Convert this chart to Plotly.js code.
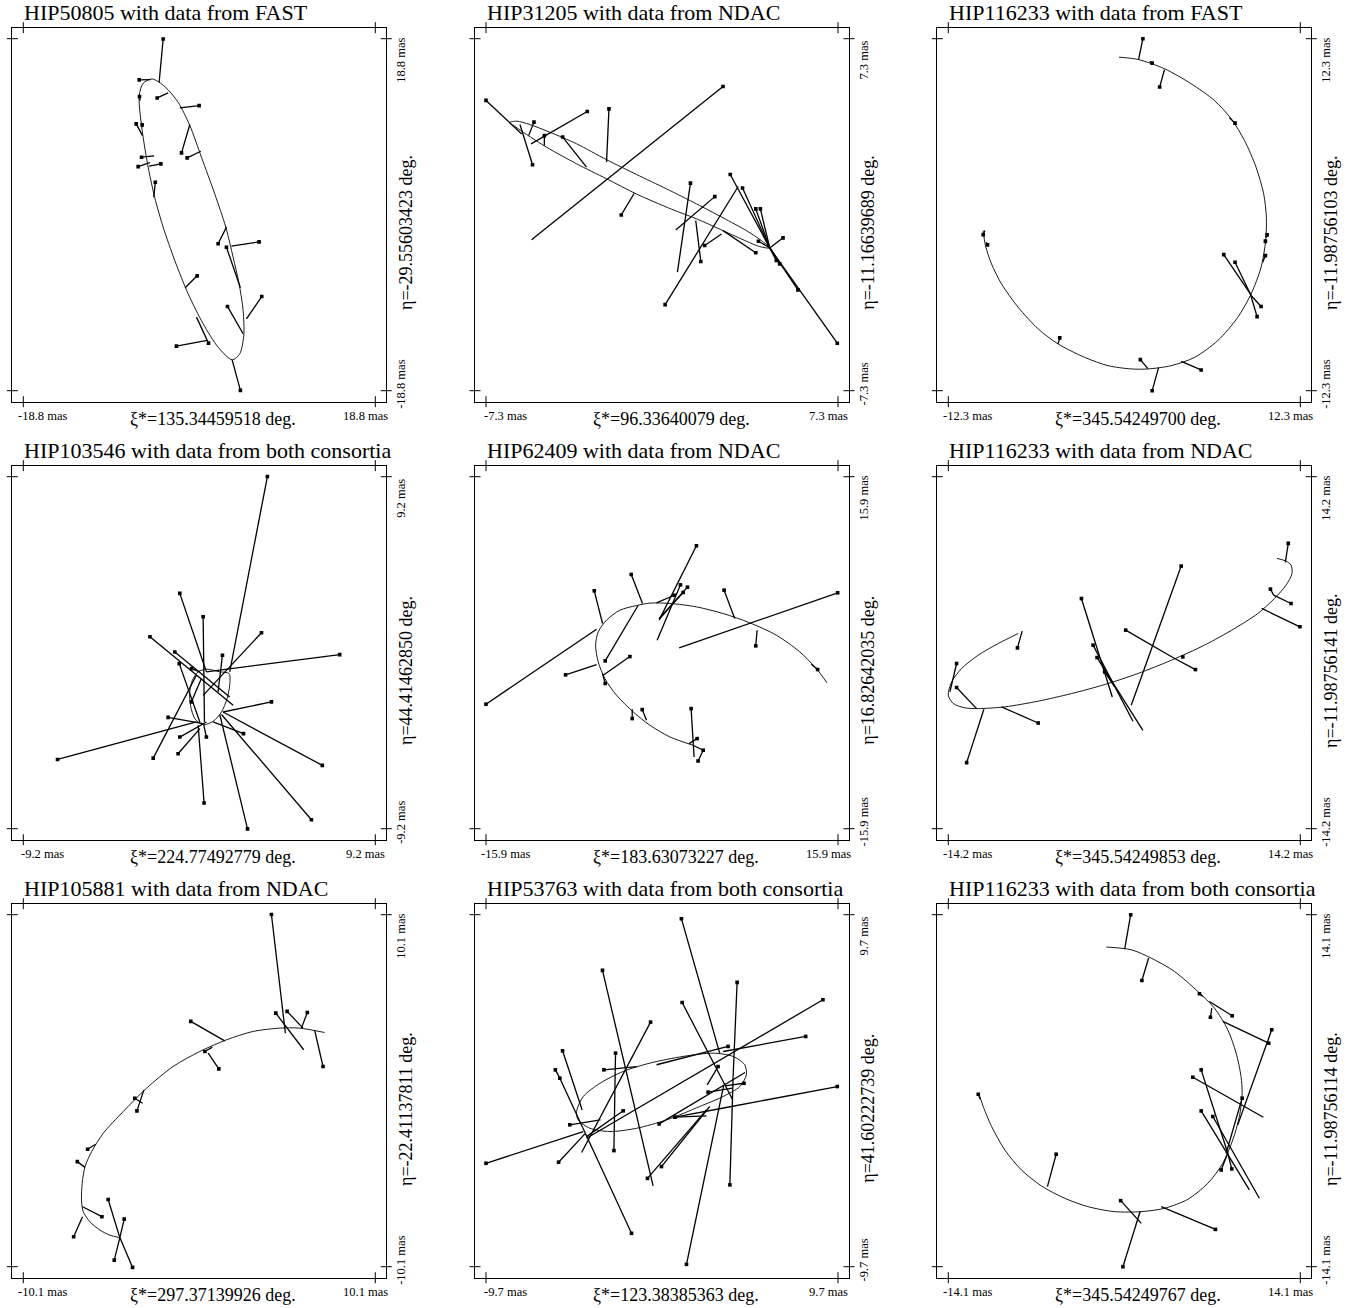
<!DOCTYPE html>
<html><head><meta charset="utf-8">
<script src="https://cdn.plot.ly/plotly-3.0.1.min.js"></script>
<style>body{margin:0;background:#fff}</style>
</head><body><div id="chart" style="width:1348px;height:1308px"></div>
<script>
// ---------- labels ----------
const titles = ["HIP50805 with data from FAST","HIP31205 with data from NDAC","HIP116233 with data from FAST",
  "HIP103546 with data from both consortia","HIP62409 with data from NDAC","HIP116233 with data from NDAC",
  "HIP105881 with data from NDAC","HIP53763 with data from both consortia","HIP116233 with data from both consortia"];
const rangesMas = [18.8, 7.3, 12.3, 9.2, 15.9, 14.2, 10.1, 9.7, 14.1];
const xiLabels = ["135.34459518","96.33640079","345.54249700","224.77492779","183.63073227","345.54249853","297.37139926","123.38385363","345.54249767"];
const etaLabels = ["-29.55603423","-11.16639689","-11.98756103","44.41462850","16.82642035","-11.98756141","-22.41137811","41.60222739","-11.98756114"];

// ---------- panel 1 : HIP50805 FAST ----------
const p1OrbitX = [-5.04,-6.0,-6.42,-6.28,-5.89,-5.39,-4.77,-3.86,-2.62,-1.19,0.41,2.01,3.51,4.32,4.75,4.68,4.25,3.61,2.83,1.65,0.23,-1.01,-2.26,-3.68,-5.04];
const p1OrbitY = [14.50,14.04,12.72,10.41,7.56,4.72,1.87,-1.33,-4.89,-8.45,-11.65,-14.15,-15.50,-14.86,-12.90,-10.23,-7.38,-4.54,-1.33,2.22,6.14,9.52,12.01,13.68,14.50];
const p1ObsX = [-3.86,-6.42,-4.50,-0.02,-6.39,-6.74,-6.10,-1.90,-1.30,-6.17,-6.53,-4.11,-4.70,2.01,6.39,2.90,-0.23,3.01,6.67,-2.44,0.98,4.39];
const p1ObsY = [18.77,14.40,12.47,11.65,12.62,9.70,9.59,6.60,6.07,6.14,5.14,5.43,3.47,-3.11,-2.90,-3.47,-6.53,-9.80,-8.74,-14.04,-13.72,-18.77];
const p1FitX = [-4.29,-5.21,-3.33,-2.08,-6.32,-6.07,-6.07,-1.01,0.16,-4.82,-5.28,-5.36,-4.86,2.90,3.43,4.39,-1.51,4.68,5.04,0.84,-0.30,3.51];
const p1FitY = [14.15,14.43,13.01,11.41,12.19,8.45,9.34,9.63,6.78,6.28,5.57,5.18,1.87,-1.33,-3.36,-7.81,-7.81,-12.72,-11.12,-13.43,-10.94,-15.50];

// ---------- panel 2 : HIP31205 NDAC ----------
const p2OrbitX = [-6.33,-6.03,-5.48,-4.65,-3.54,-2.30,-1.06,0.19,1.43,2.53,3.50,4.12,4.47,4.05,3.50,2.53,1.43,0.39,-1.06,-2.30,-3.54,-4.79,-5.62,-6.10,-6.33];
const p2OrbitY = [3.82,3.88,3.74,3.42,2.94,2.28,1.67,1.07,0.45,-0.13,-0.66,-1.07,-1.38,-1.32,-1.10,-0.66,-0.17,0.23,0.86,1.49,2.11,2.80,3.33,3.66,3.82];
const p2ObsX = [-7.30,-5.31,-5.37,-3.10,-4.88,-4.12,-2.20,2.53,-1.69,1.18,2.19,1.61,2.83,3.34,3.89,4.08,7.27,5.64,4.88,5.02,0.13,1.77,3.89,4.00,4.74];
const p2ObsY = [4.74,3.84,2.07,4.28,3.28,3.22,4.39,5.32,-0.01,1.31,0.75,-1.94,1.67,1.11,0.24,0.24,-5.33,-3.12,-2.04,-0.96,-3.73,-1.28,-1.58,-1.10,-1.90];
const p2FitX = [-5.82,-5.53,-5.89,-5.43,-4.88,-3.13,-2.30,-5.41,-1.15,0.64,0.57,1.40,4.47,4.47,4.47,4.47,4.47,4.47,4.47,4.47,3.16,2.47,2.53,4.47,4.47];
const p2FitY = [3.35,3.28,3.74,2.94,2.87,1.97,2.18,-1.04,0.89,-2.38,-0.63,-0.24,-1.38,-1.38,-1.38,-1.38,-1.38,-1.38,-1.38,-1.38,1.17,-0.80,-0.66,-1.38,-1.38];

// ---------- panel 3 : HIP116233 FAST ----------
const p3OrbitX = [-0.37,0.95,2.81,4.67,6.30,7.47,8.40,9.21,9.74,9.93,9.88,9.56,8.86,7.93,6.53,4.91,3.28,1.65,0.49,-1.14,-2.77,-4.63,-6.02,-7.42,-8.58,-9.28,-9.70,-9.86];
const p3OrbitY = [11.01,10.85,10.20,9.15,7.98,6.70,5.19,3.32,1.46,-0.17,-1.81,-3.67,-5.54,-7.17,-8.80,-9.97,-10.55,-10.78,-10.78,-10.55,-9.97,-9.03,-7.98,-6.47,-4.84,-3.44,-2.16,-1.11];
const p3ObsX = [1.30,1.95,2.47,7.74,-9.86,-9.56,9.98,9.86,9.86,6.95,9.28,7.74,9.56,-4.51,1.12,5.37,1.95];
const p3ObsY = [12.30,10.59,8.92,6.40,-1.39,-2.11,-1.41,-1.85,-2.86,-2.79,-7.12,-3.32,-6.42,-8.61,-10.13,-10.85,-12.30];
const p3FitX = [1.00,1.77,2.81,7.35,-9.74,-9.65,9.91,9.88,9.67,8.81,8.81,8.86,8.86,-4.63,1.65,3.98,2.40];
const p3FitY = [10.85,10.71,10.15,6.77,-1.11,-1.92,-1.62,-2.04,-3.32,-5.54,-5.54,-5.65,-5.65,-9.03,-10.76,-10.25,-10.67];

// ---------- panel 4 : HIP103546 both ----------
const p4OrbitX = [0.37,1.07,1.56,1.59,1.45,1.16,0.72,0.20,-0.23,-0.46,-0.50,-0.36,-0.06,0.37];
const p4OrbitY = [-0.86,-1.00,-1.09,-1.70,-2.40,-3.10,-3.59,-3.76,-3.45,-2.75,-2.05,-1.44,-1.00,-0.86];
const p4ObsX = [3.56,-1.02,0.20,3.25,-2.58,-1.28,7.34,-1.05,1.21,-7.41,3.77,-1.63,-2.41,-1.11,-1.02,0.25,2.52,5.86,6.43,2.31,-0.41,0.37,-0.41];
const p4ObsY = [9.21,3.10,1.88,1.04,0.83,0.04,-0.10,-0.57,-0.13,-5.58,-2.57,-3.38,-5.51,-5.28,-4.41,-7.86,-9.21,-8.73,-5.89,-4.23,-2.57,-4.41,-0.83];
const p4FitX = [1.59,0.37,0.27,0.20,1.77,1.59,0.37,0.03,0.98,-0.15,1.24,0.20,-0.15,0.03,0.37,-0.06,1.07,1.16,1.24,0.72,0.11,0.23,0.03];
const p4FitY = [-1.00,-1.00,-3.62,-2.23,-2.75,-2.31,-1.00,-3.62,-2.05,-3.62,-3.10,-3.71,-1.18,-3.97,-3.62,-3.80,-3.23,-3.23,-3.10,-3.62,-1.35,-3.76,-1.00];

// ---------- panel 5 : HIP62409 NDAC ----------
const p5OrbitX = [14.91,13.94,12.44,10.33,7.93,5.52,3.11,0.71,-1.10,-2.30,-3.81,-5.01,-5.76,-6.00,-5.76,-5.16,-4.11,-2.60,-1.10,0.71,2.81];
const p5OrbitY = [-2.73,-1.43,0.08,1.58,2.70,3.54,4.14,4.45,4.48,4.26,3.84,2.94,1.88,0.68,-0.83,-2.34,-3.84,-5.35,-6.55,-7.61,-8.36];
const p5ObsX = [-15.90,-6.12,-2.78,-5.13,-2.90,-8.71,-5.13,3.11,2.30,1.67,1.91,1.10,5.61,15.87,8.47,14.06,-2.69,-1.79,2.63,3.17,3.26,3.72];
const p5ObsY = [-4.65,5.59,7.07,-0.74,-0.35,-2.00,-2.78,9.66,5.92,6.13,5.44,5.19,5.65,5.41,0.62,-1.52,-5.95,-5.14,-5.05,-7.76,-9.78,-8.81];
const p5FitX = [-5.91,-5.37,-1.76,-2.15,-5.31,-5.91,-5.37,-0.26,-0.20,-0.44,-0.26,-0.50,6.57,1.55,8.59,13.49,-2.69,-1.40,2.90,2.45,3.72,2.81];
const p5FitY = [2.12,2.64,4.45,4.29,-2.03,-1.07,-1.88,2.94,3.09,1.13,3.09,4.50,3.09,0.44,2.03,-1.04,-5.11,-6.10,-9.42,-8.21,-8.81,-8.36];

// ---------- panel 6 : HIP116233 NDAC ----------
const p6OrbitX = [-8.56,-10.17,-11.79,-13.13,-13.93,-14.20,-13.80,-12.86,-11.79,-9.64,-6.95,-4.27,-1.58,1.10,3.79,6.47,8.89,10.77,12.11,13.05,13.53,13.45,13.05,12.32];
const p6OrbitY = [1.55,0.74,-0.20,-1.28,-2.36,-3.43,-4.10,-4.45,-4.51,-4.37,-3.91,-3.30,-2.57,-1.68,-0.61,0.61,1.95,3.16,4.37,5.45,6.39,7.07,7.39,7.61];
const p6ObsX = [13.23,13.45,11.79,14.17,4.59,-3.46,-2.52,-2.20,-1.58,0.11,5.74,-13.53,-13.53,-6.95,-12.72,-8.62,4.72];
const p6ObsY = [8.82,3.97,5.13,2.09,6.99,4.37,0.61,-0.39,-1.55,1.82,-1.36,-2.81,-0.87,-5.67,-8.87,0.39,-0.34];
const p6FitX = [12.99,12.05,12.05,11.09,0.56,-0.97,0.70,1.50,-0.78,3.92,3.92,-11.92,-14.07,-9.91,-11.33,-8.24,4.60];
const p6FitY = [7.28,4.64,4.64,3.57,-4.24,-3.57,-5.53,-6.26,-2.76,-0.39,-0.39,-4.51,-3.16,-4.37,-4.56,1.74,-0.25];

// ---------- panel 7 : HIP105881 NDAC ----------
const p7OrbitX = [7.19,5.76,4.61,3.09,1.56,0.03,-1.50,-3.03,-4.37,-5.51,-6.18,-6.56,-6.72,-6.76,-6.66,-6.28,-5.70,-5.13,-4.56];
const p7OrbitY = [3.34,3.59,3.59,3.40,2.92,2.25,1.39,0.14,-1.20,-2.44,-3.50,-4.36,-5.32,-6.27,-6.94,-7.52,-8.00,-8.29,-8.44];
const p7ObsX = [4.14,4.39,5.04,6.20,7.10,-0.49,1.12,0.32,-3.58,-3.70,-6.41,-7.00,-5.59,-7.21,-5.23,-3.83,-4.31,-4.88];
const p7ObsY = [10.11,4.45,4.55,4.49,1.39,3.98,1.25,2.25,-1.16,-0.43,-3.36,-4.07,-7.23,-8.38,-6.24,-10.14,-7.37,-9.72];
const p7FitX = [4.94,5.99,5.95,5.86,6.62,1.46,0.51,0.75,-3.18,-3.26,-5.95,-6.56,-6.70,-6.70,-4.56,-4.56,-4.56,-4.56];
const p7FitY = [3.30,2.35,3.59,3.59,3.46,2.86,2.15,2.50,0.05,-0.72,-3.07,-4.40,-6.66,-7.23,-8.43,-8.43,-8.43,-8.43];

// ---------- panel 8 : HIP53763 both ----------
const p8OrbitX = [-4.71,-4.34,-3.42,-2.14,-0.67,1.17,2.82,3.92,4.56,4.65,4.29,3.37,2.08,0.25,-1.40,-2.87,-3.97,-4.62,-4.71];
const p8OrbitY = [-1.15,-0.32,0.41,1.06,1.52,1.89,2.07,1.89,1.43,0.87,0.23,-0.32,-0.87,-1.61,-2.07,-2.25,-2.07,-1.61,-1.15];
const p8ObsX = [-9.70,8.87,9.66,0.71,7.92,3.64,-3.20,1.07,-3.28,-0.63,-5.48,-5.88,-5.63,-1.68,-2.65,-2.56,-2.14,-5.70,-5.08,1.11,4.14,3.74,1.35,-0.80,-0.03,-0.16,0.71,2.54,3.09,4.52];
const p8ObsY = [-4.00,5.01,0.23,-1.46,2.99,2.44,1.15,9.48,6.63,3.78,2.20,1.15,0.69,-7.86,-3.30,2.07,-1.11,-3.94,-1.88,4.86,5.97,-5.19,-9.57,-4.83,-4.18,-1.83,-1.46,-0.08,1.33,0.41];
const p8FitX = [-4.34,-4.16,3.83,3.83,3.37,-0.30,-1.40,3.18,-0.49,-4.43,-4.40,-5.63,-4.38,-4.38,-2.58,-2.58,-4.16,-4.25,-3.39,3.88,3.92,3.92,3.40,2.45,2.63,4.58,2.45,3.88,2.49,3.46];
const p8FitY = [-2.25,-2.62,-0.87,-0.87,2.16,1.43,1.33,2.07,-5.25,-3.41,-1.06,0.69,-2.01,-2.01,1.06,1.06,-2.53,-2.38,-1.61,-0.47,0.78,0.78,0.29,-1.06,-0.87,1.00,-1.39,0.14,0.32,0.27];

// ---------- panel 9 : HIP116233 both ----------
const p9OrbitX = [-1.44,0.56,2.16,4.02,5.89,7.22,8.29,8.96,9.35,9.44,9.22,8.69,7.89,6.69,5.09,3.22,1.36,-0.77,-2.91,-4.77,-6.64,-8.24,-9.57,-10.63,-11.30,-11.57];
const p9OrbitY = [11.51,11.29,10.62,9.55,7.95,6.62,4.88,3.01,1.14,-0.20,-2.07,-3.94,-5.81,-7.42,-8.70,-9.42,-9.69,-9.69,-9.29,-8.62,-7.63,-6.35,-4.75,-2.87,-1.27,-0.47];
const p9ObsX = [0.51,1.41,8.64,6.90,6.02,11.57,11.81,5.49,6.16,6.16,7.09,7.76,8.61,9.44,-5.46,-0.29,7.30,-0.11,-11.70];
const p9ObsY = [14.10,8.83,6.00,5.89,7.77,3.81,4.88,1.08,1.67,-1.62,-2.07,-6.35,-6.27,-0.60,-5.09,-8.81,-11.11,-14.10,-0.28];
const p9FitX = [0.03,1.95,6.82,7.01,6.29,7.89,9.09,11.14,8.29,10.02,10.82,8.29,8.29,8.16,-6.16,1.36,2.96,1.28,-11.54];
const p9FitY = [11.35,10.63,7.15,6.62,7.55,5.55,-2.74,-2.13,-5.01,-7.95,-8.62,-5.01,-5.01,-5.01,-7.68,-10.63,-9.29,-9.64,-0.68];

const orbitsX = [p1OrbitX,p2OrbitX,p3OrbitX,p4OrbitX,p5OrbitX,p6OrbitX,p7OrbitX,p8OrbitX,p9OrbitX];
const orbitsY = [p1OrbitY,p2OrbitY,p3OrbitY,p4OrbitY,p5OrbitY,p6OrbitY,p7OrbitY,p8OrbitY,p9OrbitY];
const obsXs = [p1ObsX,p2ObsX,p3ObsX,p4ObsX,p5ObsX,p6ObsX,p7ObsX,p8ObsX,p9ObsX];
const obsYs = [p1ObsY,p2ObsY,p3ObsY,p4ObsY,p5ObsY,p6ObsY,p7ObsY,p8ObsY,p9ObsY];
const fitXs = [p1FitX,p2FitX,p3FitX,p4FitX,p5FitX,p6FitX,p7FitX,p8FitX,p9FitX];
const fitYs = [p1FitY,p2FitY,p3FitY,p4FitY,p5FitY,p6FitY,p7FitY,p8FitY,p9FitY];

// ---------- layout geometry (pixels) ----------
const W = 1348, H = 1308;
const colLeft = [12.3, 475, 937.3];
const rowTop = [27.7, 465.7, 903.7];
const SIZE = 374, PAD = 11;
const FONT = 'Liberation Serif, "Times New Roman", serif';

const traces = [], shapes = [], annotations = [];
const layout = {width: W, height: H, margin: {l:0, r:0, t:0, b:0}, showlegend: false,
  paper_bgcolor: '#fff', plot_bgcolor: '#fff', font: {family: FONT, color: '#000'}};

const px = v => v / W, py = v => 1 - v / H;

for (let i = 0; i < 9; i++) {
  const n = i + 1, sfx = n === 1 ? '' : String(n);
  const xr = 'x' + sfx, yr = 'y' + sfx;
  const left = colLeft[i % 3], top = rowTop[Math.floor(i / 3)];
  const R = rangesMas[i];
  const half = R * SIZE / (SIZE - 2 * PAD);
  const axBase = {showline: true, mirror: true, linecolor: '#000', linewidth: 1, showgrid: false,
    zeroline: false, showticklabels: false, ticks: '', fixedrange: true, range: [-half, half]};
  layout['xaxis' + sfx] = Object.assign({}, axBase, {domain: [px(left), px(left + SIZE)], anchor: yr});
  layout['yaxis' + sfx] = Object.assign({}, axBase, {domain: [py(top + SIZE), py(top)], anchor: xr});

  traces.push({type: 'scatter', mode: 'lines', x: orbitsX[i], y: orbitsY[i], xaxis: xr, yaxis: yr,
    line: {color: '#000', width: 0.9, shape: 'spline', smoothing: 0.8}, hoverinfo: 'skip'});
  const sx = [], sy = [];
  obsXs[i].forEach((ox, k) => { sx.push(fitXs[i][k], ox, null); sy.push(fitYs[i][k], obsYs[i][k], null); });
  traces.push({type: 'scatter', mode: 'lines', x: sx, y: sy, xaxis: xr, yaxis: yr,
    line: {color: '#000', width: 1.3}, hoverinfo: 'skip'});
  traces.push({type: 'scatter', mode: 'markers', x: obsXs[i], y: obsYs[i], xaxis: xr, yaxis: yr,
    marker: {color: '#000', size: 3.6, symbol: 'square'}, hoverinfo: 'skip'});

  // crossing ticks at +-R on all four sides
  [-R, R].forEach(v => {
    [0, 1].forEach(a => {
      shapes.push({type: 'line', xref: xr, x0: v, x1: v, yref: yr + ' domain', ysizemode: 'pixel',
        yanchor: a, y0: -5.5, y1: 5.5, line: {color: '#000', width: 1}});
      shapes.push({type: 'line', yref: yr, y0: v, y1: v, xref: xr + ' domain', xsizemode: 'pixel',
        xanchor: a, x0: -5.5, x1: 5.5, line: {color: '#000', width: 1}});
    });
  });

  const lab = R.toFixed(1) + ' mas';
  const ann = (o) => annotations.push(Object.assign({xref: 'paper', yref: 'paper', showarrow: false}, o));
  ann({text: titles[i], x: px(left + PAD - 1), xanchor: 'left', y: py(top - 15), yanchor: 'middle', font: {size: 22}});
  ann({text: '-' + lab, x: px(left + 30.3), xanchor: 'center', y: py(top + SIZE + 14.5), yanchor: 'middle', font: {size: 12.5}});
  ann({text: lab, x: px(left + SIZE - 20.7), xanchor: 'center', y: py(top + SIZE + 14.5), yanchor: 'middle', font: {size: 12.5}});
  ann({text: 'ξ*=' + xiLabels[i] + ' deg.', x: px(left + 115.5), xanchor: 'left', y: py(top + SIZE + 17), yanchor: 'middle', font: {size: 18}});
  ann({text: lab, textangle: -90, x: px(left + SIZE + 14.5), xanchor: 'center', y: py(top + 32.3), yanchor: 'middle', font: {size: 12.5}});
  ann({text: '-' + lab, textangle: -90, x: px(left + SIZE + 14.5), xanchor: 'center', y: py(top + SIZE - 17.7), yanchor: 'middle', font: {size: 12.5}});
  ann({text: 'η=' + etaLabels[i] + ' deg.', textangle: -90, x: px(left + SIZE + 19), xanchor: 'center', y: py(top + 205), yanchor: 'middle', font: {size: 18}});
}
layout.shapes = shapes;
layout.annotations = annotations;
Plotly.newPlot('chart', traces, layout, {staticPlot: true, displayModeBar: false});
</script></body></html>
